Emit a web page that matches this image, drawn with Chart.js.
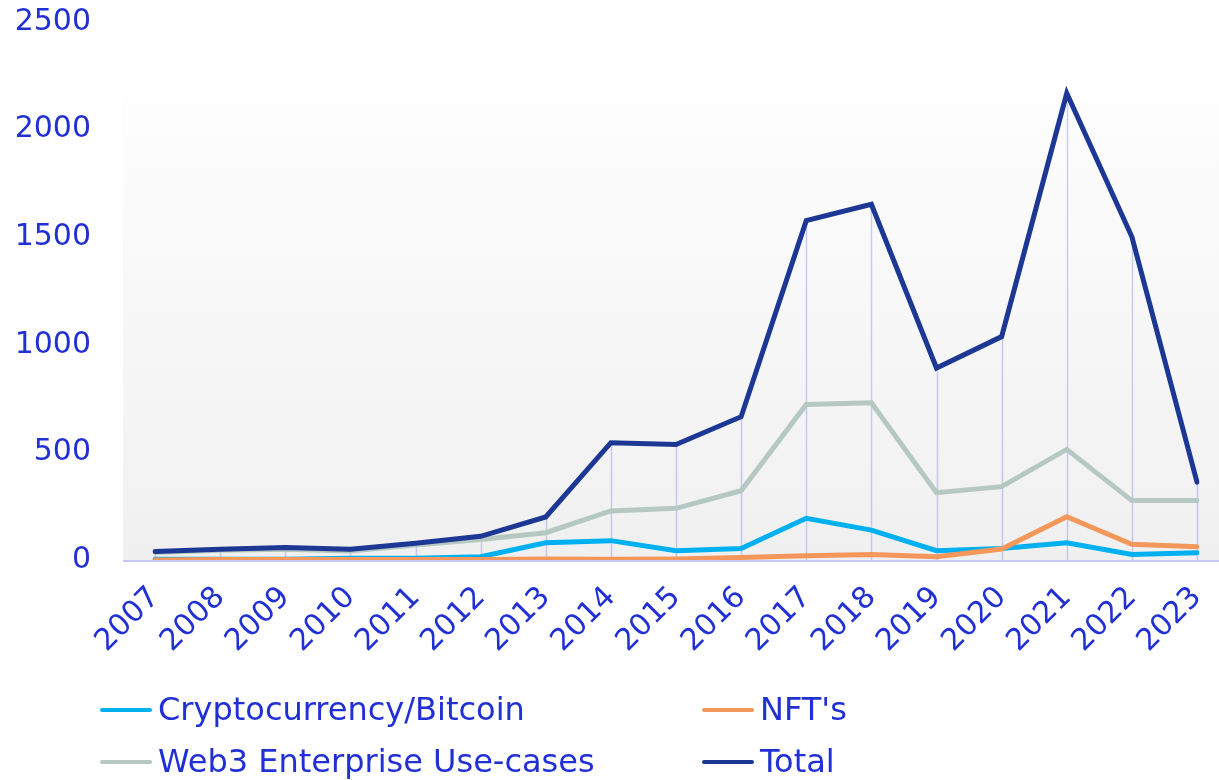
<!DOCTYPE html>
<html>
<head>
<meta charset="utf-8">
<script src="https://cdn.jsdelivr.net/npm/chart.js@4.4.0/dist/chart.umd.min.js"></script>
<style>
  html, body { margin: 0; padding: 0; background: #ffffff; }
  #wrap { position: relative; width: 1219px; height: 780px; }
  #c { position: absolute; left: 0; top: 0; }
  .lg { position: absolute; font-family: "DejaVu Sans", sans-serif; font-size: 32px; color: #2030d4; white-space: nowrap; line-height: 1; }
  .lg span.sw { position: absolute; height: 4px; width: 52px; border-radius: 2px; }
</style>
</head>
<body>
<div id="wrap">
  <canvas id="c" width="1219" height="780"></canvas>
</div>
<script>
const years = ["2007","2008","2009","2010","2011","2012","2013","2014","2015","2016","2017","2018","2019","2020","2021","2022","2023"];
const crypto = [3, 3, 3, 8, 8, 15, 80, 90, 43, 53, 194, 139, 43, 54, 80, 26, 34];
const nfts   = [0, 2, 2, 2, 2, 2, 5, 3, 5, 12, 20, 26, 15, 51, 201, 73, 62];
const web3   = [35, 45, 50, 42, 70, 95, 127, 228, 240, 322, 723, 731, 313, 341, 514, 276, 276];
const total  = [40, 50, 58, 50, 78, 110, 200, 545, 537, 666, 1577, 1653, 892, 1038, 2169, 1502, 362];
const yTicks = [0, 500, 1000, 1500, 2000, 2500];

const seriesNames = ["Cryptocurrency/Bitcoin", "NFT's", "Web3 Enterprise Use-cases", "Total"];
const seriesColors = ["#00b0f0", "#f4975a", "#b5c8c1", "#1c3894"];
const textColor = "#2030d4";
const fontFam = "'DejaVu Sans', sans-serif";

const bgPlugin = {
  id: 'bgPlugin',
  beforeDatasetsDraw(chart) {
    const ctx = chart.ctx;
    const y0 = chart.scales.y.getPixelForValue(0);
    const topY = 92;
    const left = chart.chartArea.left - 32;
    const right = chart.width;
    ctx.save();
    const g = ctx.createLinearGradient(0, topY, 0, y0);
    g.addColorStop(0, '#fefefe');
    g.addColorStop(1, '#f0f0f0');
    ctx.fillStyle = g;
    ctx.fillRect(left, topY, right - left, y0 - topY);
    const meta = chart.getDatasetMeta(3);
    ctx.strokeStyle = 'rgba(160,165,240,0.55)';
    ctx.lineWidth = 1.5;
    meta.data.forEach(pt => {
      ctx.beginPath();
      ctx.moveTo(Math.round(pt.x) + 0.5, pt.y);
      ctx.lineTo(Math.round(pt.x) + 0.5, y0);
      ctx.stroke();
    });
    ctx.strokeStyle = '#c6c9f5';
    ctx.lineWidth = 2;
    ctx.beginPath();
    ctx.moveTo(left, y0 + 1);
    ctx.lineTo(right, y0 + 1);
    ctx.stroke();
    ctx.restore();
  }
};

const datasets = [crypto, nfts, web3, total].map((d, i) => ({
  label: seriesNames[i],
  data: d,
  borderColor: seriesColors[i],
  backgroundColor: seriesColors[i],
  borderWidth: 5,
  pointRadius: 0,
  tension: 0,
  borderCapStyle: 'round',
  borderJoinStyle: 'miter',
  order: 4 - i
}));

new Chart(document.getElementById('c'), {
  type: 'line',
  data: { labels: years, datasets },
  options: {
    responsive: false,
    animation: false,
    layout: { padding: { top: 22, right: 22, left: 0, bottom: 0 } },
    plugins: { legend: { display: false }, tooltip: { enabled: false } },
    scales: {
      x: {
        type: 'category',
        offset: false,
        grid: { display: false, drawTicks: false },
        border: { display: false },
        ticks: {
          color: textColor,
          font: { family: fontFam, size: 30 },
          minRotation: 45, maxRotation: 45,
          padding: 20,
          autoSkip: false
        },
        afterFit(s) { s.height = 220; s.paddingLeft = 0; s.paddingRight = 0; }
      },
      y: {
        min: 0, max: 2500,
        afterBuildTicks(s) { s.ticks = yTicks.map(v => ({ value: v })); },
        grid: { display: false, drawTicks: false },
        border: { display: false },
        ticks: {
          color: textColor,
          font: { family: fontFam, size: 30 },
          padding: 64,
          callback: v => String(v)
        },
        afterFit(s) { s.width = 155; s.paddingTop = 0; s.paddingBottom = 0; }
      }
    }
  },
  plugins: [bgPlugin]
});

const wrap = document.getElementById('wrap');
const pos = [[100, 710], [702, 710], [100, 762], [702, 762]];
seriesNames.forEach((n, i) => {
  const d = document.createElement('div');
  d.className = 'lg';
  d.style.left = (pos[i][0] + 58) + 'px';
  d.style.top = (pos[i][1] - 17) + 'px';
  d.textContent = n;
  const sw = document.createElement('span');
  sw.className = 'sw';
  sw.style.background = seriesColors[i];
  sw.style.left = '-58px';
  sw.style.top = '15px';
  d.appendChild(sw);
  wrap.appendChild(d);
});
</script>
</body>
</html>
